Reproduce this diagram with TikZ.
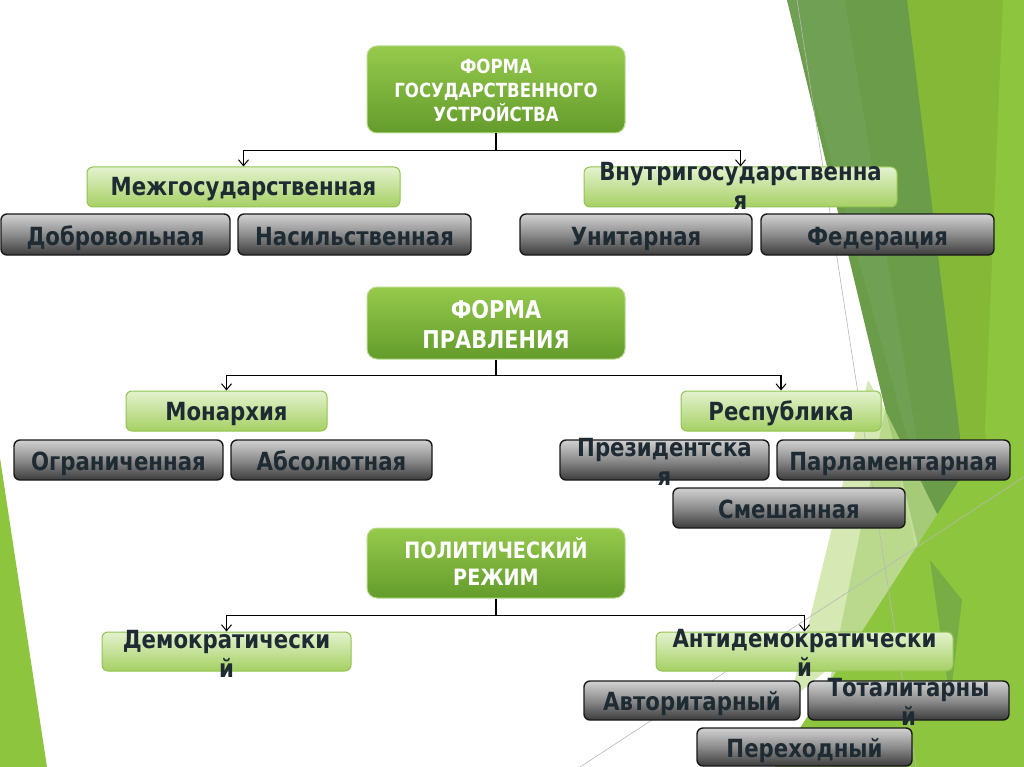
\documentclass[tikz,border=0pt]{standalone}
\usepackage{fontspec}
\setmainfont{DejaVu Sans}[FakeStretch=0.85]
\usetikzlibrary{arrows.meta}
\definecolor{bright}{HTML}{8DC53E}
\definecolor{medg}{HTML}{86B838}
\definecolor{darkg}{HTML}{6A9C4A}
\definecolor{darkg2}{HTML}{72A257}
\definecolor{paleg}{HTML}{D6E8B4}
\definecolor{lightg}{HTML}{B4D684}
\definecolor{maintop}{HTML}{95CA4C}
\definecolor{mainbot}{HTML}{649C2C}
\definecolor{mainborder}{HTML}{B9DA8E}
\definecolor{ltop}{HTML}{E4F2CE}
\definecolor{lbot}{HTML}{A6D064}
\definecolor{lborder}{HTML}{92C450}
\definecolor{gtop}{HTML}{D2D2D2}
\definecolor{gmid}{HTML}{8C8C8C}
\definecolor{gbot}{HTML}{3C3C3C}
\definecolor{dtext}{HTML}{1F2B33}
\definecolor{thinline}{HTML}{B8B8B8}
\tikzset{
  mainbox/.style={draw=mainborder, line width=1pt, rounded corners=10pt,
    top color=maintop, bottom color=mainbot, inner sep=0pt},
  lgbox/.style={draw=lborder, line width=1pt, rounded corners=6pt,
    top color=ltop, bottom color=lbot, inner sep=0pt},
  grbox/.style={draw=black!90, line width=1.4pt, rounded corners=6pt,
    top color=gtop, bottom color=gbot, middle color=gmid, inner sep=0pt},
  wtext/.style={text=white, align=center, inner sep=0pt, anchor=base},
  dtxt/.style={text=dtext, font=\fontsize{25}{29}\selectfont\bfseries, align=center, inner sep=0pt, anchor=base},
  conn/.style={draw=black, line width=1.2pt},
  arr/.style={conn, -{Straight Barb[length=6pt,width=10pt,line width=1pt]}},
}
\begin{document}
\begin{tikzpicture}[x=1pt,y=-1pt]
\useasboundingbox (0,0) rectangle (1024,767);
\fill[white] (0,0) rectangle (1024,767);
% background shapes
\fill[bright] (0,458) -- (47,767) -- (0,767) -- cycle;
\fill[medg] (905,0) -- (1024,0) -- (1024,767) -- (948,720) -- cycle;
\fill[darkg] (787,0) -- (907,0) -- (975,560) -- (955,700) -- cycle;
\fill[darkg2, opacity=0.8] (787,0) -- (845,0) -- (930,520) -- cycle;
\fill[bright] (1003,0) -- (1024,0) -- (1024,767) -- (985,430) -- cycle;
\fill[paleg] (868,380) -- (885,410) -- (925,590) -- (790,700) -- cycle;
\fill[lightg, opacity=0.8] (885,410) -- (960,560) -- (930,640) -- (830,680) -- cycle;
\fill[bright] (775,767) -- (985,440) -- (1024,420) -- (1024,767) -- cycle;
\fill[darkg, opacity=0.6] (930,560) -- (962,600) -- (950,700) -- cycle;
\draw[thinline, line width=0.6pt] (797,0) -- (916,767);
\draw[thinline, line width=0.6pt] (580,767) -- (1024,477);

% form of state structure
\node[mainbox, minimum width=258, minimum height=87] (fgu) at (496,89.5) {};
\node[wtext, font=\fontsize{19.5}{24}\selectfont\bfseries] (fgu-t) at (496,122) {ФОРМА\\ГОСУДАРСТВЕННОГО\\УСТРОЙСТВА};
\node[lgbox, minimum width=313, minimum height=40] (mezh) at (243.5,187) {};
\node[dtxt] (mezh-t) at (243.5,196) {Межгосударственная};
\node[lgbox, minimum width=313, minimum height=40] (vnut) at (740.5,187) {};
\node[dtxt] (vnut-t) at (740.5,210) {Внутригосударственна\\я};
\node[grbox, minimum width=229, minimum height=41] (dobr) at (115.5,234.5) {};
\node[dtxt] (dobr-t) at (115.5,245) {Добровольная};
\node[grbox, minimum width=233, minimum height=41] (nas) at (354.5,234.5) {};
\node[dtxt] (nas-t) at (354.5,245) {Насильственная};
\node[grbox, minimum width=232, minimum height=41] (unit) at (636,234.5) {};
\node[dtxt] (unit-t) at (636,245) {Унитарная};
\node[grbox, minimum width=233, minimum height=41] (fed) at (877.5,234.5) {};
\node[dtxt] (fed-t) at (877.5,245) {Федерация};
\draw[conn] (fgu.south) -- ++(0,17) coordinate (j1);
\draw[arr] (j1) -| (mezh.north);
\draw[arr] (j1) -| (vnut.north);

% form of government
\node[mainbox, minimum width=258, minimum height=72] (fp) at (496,323) {};
\node[wtext, font=\fontsize{24.5}{30}\selectfont\bfseries] (fp-t) at (496,348) {ФОРМА\\ПРАВЛЕНИЯ};
\node[lgbox, minimum width=201, minimum height=40] (mon) at (226.5,411) {};
\node[dtxt] (mon-t) at (226.5,420) {Монархия};
\node[lgbox, minimum width=200, minimum height=40] (resp) at (781,411) {};
\node[dtxt] (resp-t) at (781,420) {Республика};
\node[grbox, minimum width=209, minimum height=40] (ogr) at (118.5,460) {};
\node[dtxt] (ogr-t) at (118.5,470) {Ограниченная};
\node[grbox, minimum width=201, minimum height=40] (abs) at (331.5,460) {};
\node[dtxt] (abs-t) at (331.5,470) {Абсолютная};
\node[grbox, minimum width=209, minimum height=40] (prez) at (664.5,460) {};
\node[dtxt] (prez-t) at (664.5,485) {Президентска\\я};
\node[grbox, minimum width=233, minimum height=40] (parl) at (893.5,460) {};
\node[dtxt] (parl-t) at (893.5,470) {Парламентарная};
\node[grbox, minimum width=232, minimum height=40] (smesh) at (789,508) {};
\node[dtxt] (smesh-t) at (789,518) {Смешанная};
\draw[conn] (fp.south) -- ++(0,16) coordinate (j2);
\draw[arr] (j2) -| (mon.north);
\draw[arr] (j2) -| (resp.north);

% political regime
\node[mainbox, minimum width=258, minimum height=70] (pr) at (496,563) {};
\node[wtext, font=\fontsize{22.5}{27}\selectfont\bfseries] (pr-t) at (496,585) {ПОЛИТИЧЕСКИЙ\\РЕЖИМ};
\node[lgbox, minimum width=249, minimum height=39] (dem) at (226.5,651.5) {};
\node[dtxt] (dem-t) at (226.5,677) {Демократически\\й};
\node[lgbox, minimum width=297, minimum height=39] (anti) at (804.5,651.5) {};
\node[dtxt] (anti-t) at (804.5,676) {Антидемократически\\й};
\node[grbox, minimum width=216, minimum height=39] (avt) at (692,700.5) {};
\node[dtxt] (avt-t) at (692,710) {Авторитарный};
\node[grbox, minimum width=201, minimum height=39] (tot) at (908.5,700.5) {};
\node[dtxt] (tot-t) at (908.5,725) {Тоталитарны\\й};
\node[grbox, minimum width=215, minimum height=38] (per) at (804.5,747) {};
\node[dtxt] (per-t) at (804.5,757) {Переходный};
\draw[conn] (pr.south) -- ++(0,17) coordinate (j3);
\draw[arr] (j3) -| (dem.north);
\draw[arr] (j3) -| (anti.north);
\end{tikzpicture}
\end{document}
